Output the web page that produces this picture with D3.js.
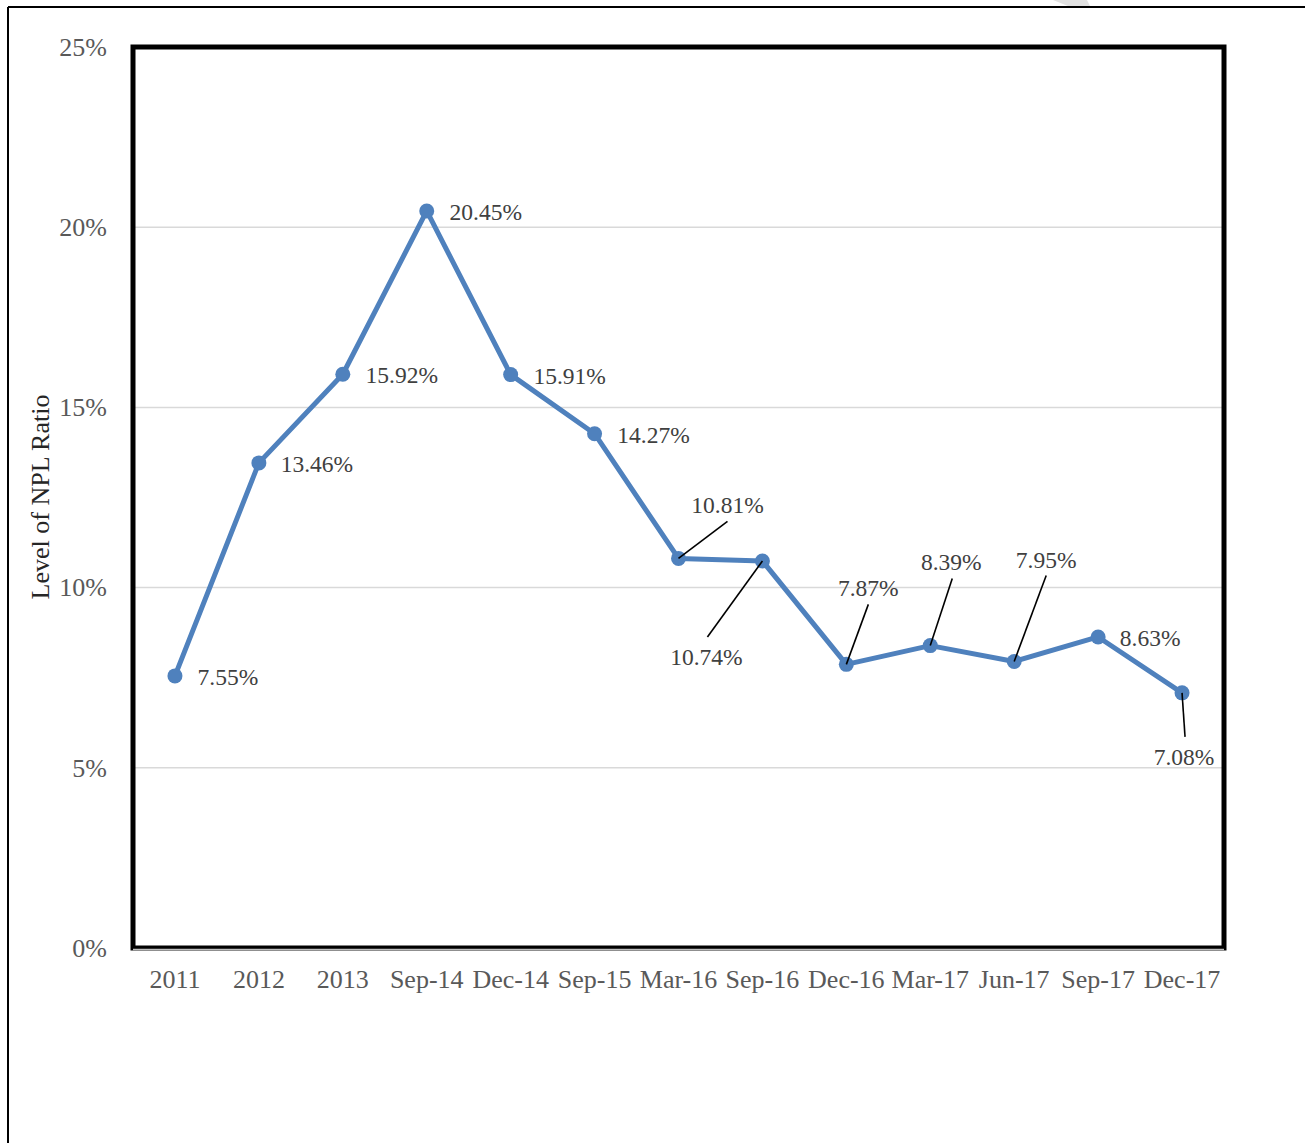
<!DOCTYPE html>
<html>
<head>
<meta charset="utf-8">
<script src="https://cdn.jsdelivr.net/npm/d3@7"></script>
<style>
  html, body { margin: 0; padding: 0; background: #fff; }
  svg { display: block; }
  text { font-family: "Times New Roman", "Liberation Serif", serif; }
</style>
</head>
<body>
<svg id="chart" width="1305" height="1143"></svg>
<script>
// NPL ratio by period
const periods = ["2011", "2012", "2013", "Sep-14", "Dec-14", "Sep-15", "Mar-16",
                 "Sep-16", "Dec-16", "Mar-17", "Jun-17", "Sep-17", "Dec-17"];
const nplRatio = [7.55, 13.46, 15.92, 20.45, 15.91, 14.27, 10.81,
                  10.74, 7.87, 8.39, 7.95, 8.63, 7.08];
const yTicks = [0, 5, 10, 15, 20, 25];

// label placement relative to each point: [text dx, text dy, leader dx, leader dy] (null = no leader)
const labelLayout = [
  [53, 1, null, null], [58, 1, null, null], [59, 1, null, null], [59, 1, null, null],
  [59, 1, null, null], [59, 1, null, null], [49, -54, 49, -37], [-56, 96, -55, 76],
  [22, -77, 22, -60], [21, -84, 22, -67], [32, -102, 32, -86], [52, 1, null, null],
  [2, 64, 3, 44]
];

const svg = d3.select("#chart");

// page border
svg.append("line").attr("x1", 8).attr("y1", 7).attr("x2", 1305).attr("y2", 7)
  .attr("stroke", "#000").attr("stroke-width", 2);
svg.append("line").attr("x1", 8).attr("y1", 7).attr("x2", 8).attr("y2", 1143)
  .attr("stroke", "#000").attr("stroke-width", 2);
svg.append("polygon").attr("points", "1053,0 1087,0 1090,6 1068,6")
  .attr("fill", "#e2e2e2");

const plotL = 133, plotR = 1224, plotT = 47, plotB = 948;

const x = d3.scaleBand().domain(periods).range([plotL, plotR]);
const y = d3.scaleLinear().domain([0, 25]).range([plotB, plotT]);
const cx = d => x(d) + x.bandwidth() / 2;

// gridlines
svg.append("g")
  .selectAll("line").data(yTicks.filter(t => t > 0 && t < 25)).join("line")
  .attr("x1", plotL).attr("x2", plotR)
  .attr("y1", d => y(d)).attr("y2", d => y(d))
  .attr("stroke", "#d9d9d9").attr("stroke-width", 1.5);

// y axis labels
const yAxis = d3.axisLeft(y).tickValues(yTicks).tickSize(0).tickPadding(26)
  .tickFormat(d => d + "%");
const gy = svg.append("g").attr("transform", `translate(${plotL},0)`).call(yAxis);
gy.select(".domain").remove();
gy.selectAll("text").attr("fill", "#595959").attr("font-size", 26)
  .style("font-family", "'Times New Roman', 'Liberation Serif', serif");

// x axis labels
const xAxis = d3.axisBottom(x).tickSize(0).tickPadding(22);
const gx = svg.append("g").attr("transform", `translate(0,${plotB})`).call(xAxis);
gx.select(".domain").remove();
gx.selectAll("text").attr("fill", "#595959").attr("font-size", 26)
  .style("font-family", "'Times New Roman', 'Liberation Serif', serif");

// plot frame
svg.append("rect").attr("x", plotL).attr("y", plotT)
  .attr("width", plotR - plotL).attr("height", plotB - plotT)
  .attr("fill", "none").attr("stroke", "#000").attr("stroke-width", 5);
svg.append("line").attr("x1", plotL).attr("x2", plotR)
  .attr("y1", plotB + 1.5).attr("y2", plotB + 1.5)
  .attr("stroke", "#bfbfbf").attr("stroke-width", 1.5);

// y axis title
svg.append("text")
  .attr("transform", `translate(40,497) rotate(-90)`)
  .attr("text-anchor", "middle").attr("dy", "0.35em")
  .attr("font-size", 26).attr("fill", "#262626")
  .text("Level of NPL Ratio");

const pts = periods.map((p, i) => ({ p, v: nplRatio[i], i }));

// series line
svg.append("path").datum(pts)
  .attr("fill", "none").attr("stroke", "#4f81bd").attr("stroke-width", 5)
  .attr("stroke-linejoin", "round")
  .attr("d", d3.line().x(d => cx(d.p)).y(d => y(d.v)));

// markers
svg.append("g").selectAll("circle").data(pts).join("circle")
  .attr("cx", d => cx(d.p)).attr("cy", d => y(d.v)).attr("r", 7.5)
  .attr("fill", "#4f81bd");

// leader lines
svg.append("g").selectAll("line").data(pts.filter(d => labelLayout[d.i][2] !== null)).join("line")
  .attr("x1", d => cx(d.p)).attr("y1", d => y(d.v))
  .attr("x2", d => cx(d.p) + labelLayout[d.i][2])
  .attr("y2", d => y(d.v) + labelLayout[d.i][3])
  .attr("stroke", "#000").attr("stroke-width", 1.6);

// data labels
svg.append("g").selectAll("text").data(pts).join("text")
  .attr("x", d => cx(d.p) + labelLayout[d.i][0])
  .attr("y", d => y(d.v) + labelLayout[d.i][1])
  .attr("text-anchor", "middle").attr("dy", "0.35em")
  .attr("font-size", 23.5).attr("fill", "#404040")
  .text(d => d.v.toFixed(2) + "%");
</script>
</body>
</html>
